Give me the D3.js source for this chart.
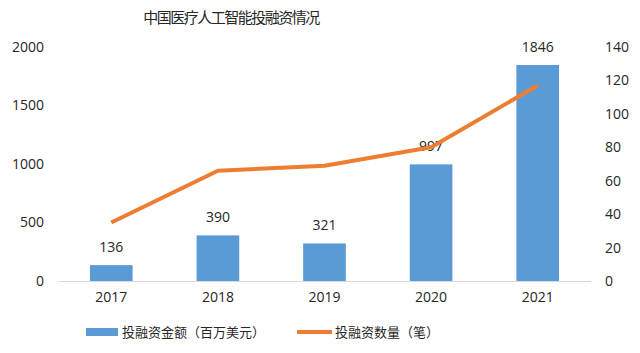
<!DOCTYPE html>
<html>
<head>
<meta charset="utf-8">
<script src="https://cdn.jsdelivr.net/npm/d3@7"></script>
<style>
  body { margin: 0; background: #fff; }
  text { font-family: "Open Sans", "Noto Sans CJK SC", sans-serif; fill: #262626; }
</style>
</head>
<body>
<div id="chart"></div>
<script>
// data
var years = ["2017", "2018", "2019", "2020", "2021"];
var amounts = [136, 390, 321, 997, 1846];      // 投融资金额（百万美元）
var counts = [35, 66, 69, 80, 117];            // 投融资数量（笔）
var leftTicks = [0, 500, 1000, 1500, 2000];
var rightTicks = [0, 20, 40, 60, 80, 100, 120, 140];
var title = "中国医疗人工智能投融资情况";
var legendNames = ["投融资金额（百万美元）", "投融资数量（笔）"];

var attrs = {
  svgWidth: 640,
  svgHeight: 353,
  plotLeft: 58,
  plotRight: 591,
  plotTop: 47,
  plotBottom: 281,
  barColor: "#5B9BD5",
  lineColor: "#ED7D31",
  axisColor: "#D9D9D9"
};

var svg = d3.select("#chart").append("svg")
  .attr("width", attrs.svgWidth)
  .attr("height", attrs.svgHeight);

// scales
var x = d3.scaleBand().domain(years)
  .range([attrs.plotLeft, attrs.plotRight])
  .paddingInner(0.6).paddingOuter(0.3);
var yLeft = d3.scaleLinear().domain([0, 2000]).range([attrs.plotBottom, attrs.plotTop]);
var yRight = d3.scaleLinear().domain([0, 140]).range([attrs.plotBottom, attrs.plotTop]);

// title
svg.append("text")
  .attr("x", 231).attr("y", 23)
  .attr("text-anchor", "middle")
  .style("font-size", "15px")
  .style("letter-spacing", "-1.5px")
  .text(title);

// left axis
var axL = svg.append("g")
  .attr("transform", "translate(" + (attrs.plotLeft - 14) + ",0)")
  .call(d3.axisLeft(yLeft).tickValues(leftTicks).tickFormat(d3.format("d")).tickSize(0).tickPadding(0));
axL.select(".domain").remove();
axL.selectAll("text").style("font-size", "14px");

// right axis
var axR = svg.append("g")
  .attr("transform", "translate(605,0)")
  .call(d3.axisRight(yRight).tickValues(rightTicks).tickFormat(d3.format("d")).tickSize(0).tickPadding(0));
axR.select(".domain").remove();
axR.selectAll("text").style("font-size", "14px").attr("text-anchor", "start");

// bottom axis
var axB = svg.append("g")
  .attr("transform", "translate(0," + attrs.plotBottom + ")")
  .call(d3.axisBottom(x).tickSize(0).tickPadding(11));
axB.select(".domain").remove();
axB.selectAll("text").style("font-size", "14px");

svg.append("line")
  .attr("x1", attrs.plotLeft).attr("x2", attrs.plotRight)
  .attr("y1", attrs.plotBottom + 0.5).attr("y2", attrs.plotBottom + 0.5)
  .attr("stroke", attrs.axisColor).attr("stroke-width", 1);

// bars
svg.selectAll(".bar").data(amounts).enter().append("rect")
  .attr("class", "bar")
  .attr("x", function(d, i) { return x(years[i]); })
  .attr("width", x.bandwidth())
  .attr("y", function(d) { return yLeft(d); })
  .attr("height", function(d) { return attrs.plotBottom - yLeft(d); })
  .attr("fill", attrs.barColor);

// bar labels
svg.selectAll(".barLabel").data(amounts).enter().append("text")
  .attr("class", "barLabel")
  .attr("x", function(d, i) { return x(years[i]) + x.bandwidth() / 2; })
  .attr("y", function(d) { return yLeft(d) - 13; })
  .attr("text-anchor", "middle")
  .style("font-size", "14px")
  .text(function(d) { return d; });

// line
var line = d3.line()
  .x(function(d, i) { return x(years[i]) + x.bandwidth() / 2; })
  .y(function(d) { return yRight(d); });

svg.append("path")
  .datum(counts)
  .attr("d", line)
  .attr("fill", "none")
  .attr("stroke", attrs.lineColor)
  .attr("stroke-width", 4)
  .attr("stroke-linejoin", "round");

// legend
var legend = svg.append("g").attr("transform", "translate(0,332)");
legend.append("rect")
  .attr("x", 86).attr("y", -4).attr("width", 32).attr("height", 8)
  .attr("fill", attrs.barColor);
legend.append("text")
  .attr("x", 122).attr("y", 0).attr("dy", "0.35em")
  .style("font-size", "13px")
  .text(legendNames[0]);
legend.append("line")
  .attr("x1", 297).attr("x2", 332).attr("y1", 0).attr("y2", 0)
  .attr("stroke", attrs.lineColor).attr("stroke-width", 4);
legend.append("text")
  .attr("x", 335).attr("y", 0).attr("dy", "0.35em")
  .style("font-size", "13px")
  .text(legendNames[1]);
</script>
</body>
</html>
